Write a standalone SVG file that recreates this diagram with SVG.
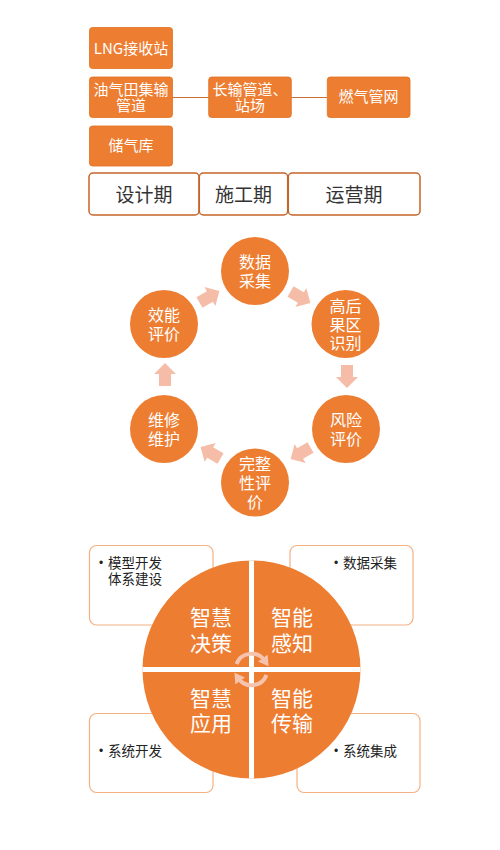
<svg xmlns="http://www.w3.org/2000/svg" width="500" height="850" viewBox="0 0 500 850">
<defs>
<style>
text{font-family:"Noto Sans CJK SC","Microsoft YaHei",sans-serif;}
.ob{fill:#ed7d31;stroke:#e07020;stroke-width:0.8;}
.wt{fill:#ffffff;font-size:15px;text-anchor:middle;}
.ph{fill:#ffffff;stroke:#c5652a;stroke-width:1.5;}
.pt{fill:#333333;font-size:19px;text-anchor:middle;}
.cc{fill:#ed7d31;}
.ct{fill:#ffffff;font-size:16px;text-anchor:middle;}
.ar{fill:#f5bda7;}
.st{fill:#ffffff;font-size:21px;text-anchor:middle;}
.bx{fill:#ffffff;stroke:#f4b183;stroke-width:1.2;}
.bt{fill:#222222;font-size:13.5px;}
.bu{fill:#222222;font-size:12px;font-family:"Liberation Sans",Arial,sans-serif;text-anchor:middle;}
.ln{stroke:#c8703a;stroke-width:1;fill:none;}
.ca{stroke:#f6c4ae;stroke-width:4;fill:none;}
</style>
<path id="blk" d="M-11,-6 H1 V-11 L12,0 L1,11 V6 H-11 Z"/>
<marker id="ah" markerUnits="userSpaceOnUse" markerWidth="12" markerHeight="12" refX="3" refY="6" orient="auto">
<path d="M0,0 L10,6 L0,12 Z" fill="#f6c4ae"/>
</marker>
</defs>

<!-- Section 1 connectors -->
<g id="connectors1">
<line class="ln" x1="172" y1="97.5" x2="209" y2="97.5"/>
<line class="ln" x1="291" y1="97.5" x2="327" y2="97.5"/>
</g>

<g id="n-lng">
<rect class="ob" x="89.5" y="27.5" width="83" height="41" rx="3"/>
<text class="wt" x="131" y="53.5">LNG接收站</text>
</g>
<g id="n-youqitian">
<rect class="ob" x="89.5" y="77" width="83" height="40.5" rx="3"/>
<text class="wt" x="131" y="94.5">油气田集输</text>
<text class="wt" x="131" y="111">管道</text>
</g>
<g id="n-chuqiku">
<rect class="ob" x="89.5" y="126" width="83" height="40" rx="3"/>
<text class="wt" x="131" y="151">储气库</text>
</g>
<g id="n-changshu">
<rect class="ob" x="208.7" y="77" width="82.6" height="40.5" rx="3"/>
<text class="wt" x="250" y="94.5">长输管道、</text>
<text class="wt" x="250" y="111">站场</text>
</g>
<g id="n-ranqi">
<rect class="ob" x="327.3" y="77" width="82.7" height="40.5" rx="3"/>
<text class="wt" x="368.6" y="102">燃气管网</text>
</g>

<g id="n-sheji">
<rect class="ph" x="89" y="173" width="110" height="42" rx="4"/>
<text class="pt" x="144" y="201.5">设计期</text>
</g>
<g id="n-shigong">
<rect class="ph" x="199.3" y="173" width="88.4" height="42" rx="4"/>
<text class="pt" x="243.5" y="201.5">施工期</text>
</g>
<g id="n-yunying">
<rect class="ph" x="288.3" y="173" width="131.7" height="42" rx="4"/>
<text class="pt" x="354" y="201.5">运营期</text>
</g>

<!-- Section 2 cycle arrows -->
<g id="connectors2">
<use href="#blk" class="ar" transform="translate(300,297) rotate(30)"/>
<use href="#blk" class="ar" transform="translate(347,376) rotate(90)"/>
<use href="#blk" class="ar" transform="translate(301,453) rotate(150)"/>
<use href="#blk" class="ar" transform="translate(211,453) rotate(210)"/>
<use href="#blk" class="ar" transform="translate(165,375) rotate(-90)"/>
<use href="#blk" class="ar" transform="translate(209,297) rotate(-30)"/>
</g>

<g id="c-shuju">
<circle class="cc" cx="255" cy="271" r="34"/>
<text class="ct" x="255" y="268">数据</text>
<text class="ct" x="255" y="286.5">采集</text>
</g>
<g id="c-gaohouguo">
<circle class="cc" cx="345.5" cy="324" r="34"/>
<text class="ct" x="345.5" y="311.5">高后</text>
<text class="ct" x="345.5" y="330.5">果区</text>
<text class="ct" x="345.5" y="348.5">识别</text>
</g>
<g id="c-fengxian">
<circle class="cc" cx="346" cy="429" r="34"/>
<text class="ct" x="346" y="426">风险</text>
<text class="ct" x="346" y="444.5">评价</text>
</g>
<g id="c-wanzheng">
<circle class="cc" cx="255" cy="482.5" r="34"/>
<text class="ct" x="255" y="469.5">完整</text>
<text class="ct" x="255" y="488.5">性评</text>
<text class="ct" x="255" y="507.5">价</text>
</g>
<g id="c-weixiu">
<circle class="cc" cx="164" cy="429" r="34"/>
<text class="ct" x="164" y="426">维修</text>
<text class="ct" x="164" y="444.5">维护</text>
</g>
<g id="c-xiaoneng">
<circle class="cc" cx="164" cy="324" r="34"/>
<text class="ct" x="164" y="321">效能</text>
<text class="ct" x="164" y="339.5">评价</text>
</g>

<!-- Section 3 -->
<g id="b-moxing">
<rect class="bx" x="89.5" y="545.5" width="123.5" height="79.5" rx="7"/>
<text class="bu" x="101" y="567">•</text>
<text class="bt" x="108" y="568">模型开发</text>
<text class="bt" x="108" y="584">体系建设</text>
</g>
<g id="b-shuju">
<rect class="bx" x="290" y="545.5" width="123" height="79.5" rx="7"/>
<text class="bu" x="336" y="567">•</text>
<text class="bt" x="343" y="568">数据采集</text>
</g>
<g id="b-xitongkaifa">
<rect class="bx" x="89.5" y="713.5" width="123.5" height="79" rx="7"/>
<text class="bu" x="101" y="755">•</text>
<text class="bt" x="108" y="756">系统开发</text>
</g>
<g id="b-xitongjicheng">
<rect class="bx" x="297" y="713.5" width="123" height="79" rx="7"/>
<text class="bu" x="336" y="755">•</text>
<text class="bt" x="343" y="756">系统集成</text>
</g>

<g id="quadrants">
<circle cx="251.5" cy="669.5" r="109" fill="#ed7d31"/>
<line x1="251.5" y1="560.5" x2="251.5" y2="778.5" stroke="#ffffff" stroke-width="5"/>
<line x1="142.5" y1="669.5" x2="360.5" y2="669.5" stroke="#ffffff" stroke-width="5"/>
</g>
<g id="q-juece">
<text class="st" x="211" y="624.5">智慧</text>
<text class="st" x="211" y="650.5">决策</text>
</g>
<g id="q-ganzhi">
<text class="st" x="292" y="624.5">智能</text>
<text class="st" x="292" y="650.5">感知</text>
</g>
<g id="q-yingyong">
<text class="st" x="211" y="705.5">智慧</text>
<text class="st" x="211" y="730.5">应用</text>
</g>
<g id="q-chuanshu">
<text class="st" x="292" y="705.5">智能</text>
<text class="st" x="292" y="730.5">传输</text>
</g>

<g id="connectors3">
<path class="ca" d="M236.5,664 A16,16 0 0 1 264.5,660.5" marker-end="url(#ah)"/>
<path class="ca" d="M266.5,675 A16,16 0 0 1 238.5,678.5" marker-end="url(#ah)"/>
</g>
</svg>
